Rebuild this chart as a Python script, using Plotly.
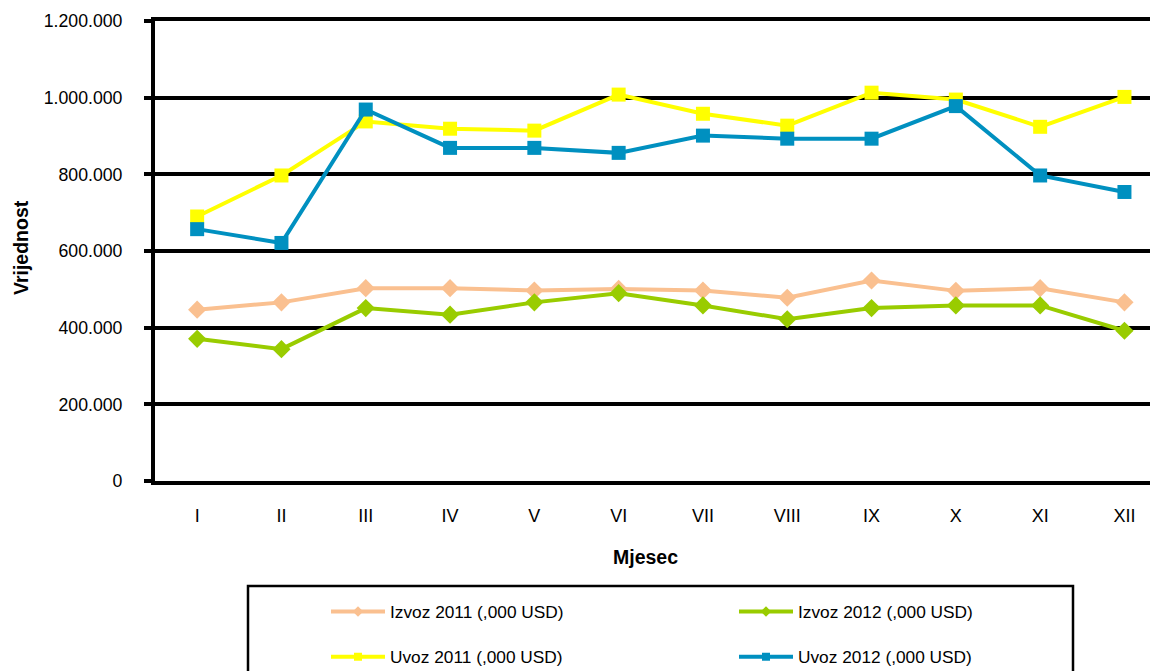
import plotly.graph_objects as go

months = ["I", "II", "III", "IV", "V", "VI", "VII", "VIII", "IX", "X", "XI", "XII"]
izvoz_2011 = [447000, 466000, 503000, 503000, 497000, 501000, 497000, 478000, 523000, 496000, 503000, 466000]
izvoz_2012 = [371000, 344000, 451000, 434000, 466000, 490000, 458000, 422000, 451000, 458000, 458000, 392000]
uvoz_2011 = [690000, 797000, 938000, 919000, 914000, 1008000, 958000, 927000, 1013000, 995000, 924000, 1002000]
uvoz_2012 = [657000, 621000, 969000, 869000, 869000, 856000, 901000, 893000, 893000, 978000, 797000, 754000]
y_ticks = [0, 200000, 400000, 600000, 800000, 1000000, 1200000]
y_tick_labels = ["0", "200.000", "400.000", "600.000", "800.000", "1.000.000", "1.200.000"]

series = [
    ("Izvoz 2011 (,000 USD)", izvoz_2011, "#FAC090", "diamond", 14, "legend"),
    ("Izvoz 2012 (,000 USD)", izvoz_2012, "#99CC00", "diamond", 14, "legend"),
    ("Uvoz 2011 (,000 USD)", uvoz_2011, "#FFFF00", "square", 14, "legend2"),
    ("Uvoz 2012 (,000 USD)", uvoz_2012, "#0090C0", "square", 14, "legend2"),
]

FONT = "Liberation Sans, Arial, sans-serif"
OFF = 8  # page body margin offset
W, H = 1158 - OFF, 671 - OFF
L, T = 155 - OFF, 21 - OFF
PLOT_BOTTOM = 481 - OFF
B = H - PLOT_BOTTOM
R = 0
PW, PH = W - L - R, H - T - B
cat_px = 84.3

def px_x(p):
    return (p - OFF - L) / PW

def px_y(p):
    return (PLOT_BOTTOM - (p - OFF)) / PH

fig = go.Figure()
for name, vals, color, sym, size, lg in series:
    fig.add_trace(go.Scatter(
        x=list(range(len(months))), y=vals, mode="lines+markers", name=name,
        line=dict(color=color, width=4),
        marker=dict(symbol=sym, size=size, color=color, line=dict(width=0)),
        showlegend=False, hoverinfo="skip",
    ))
# legend entries (smaller symbols, as in the reference legend)
for name, vals, color, sym, size, lg in series:
    fig.add_trace(go.Scatter(
        x=[None], y=[None], mode="lines+markers", name=name,
        line=dict(color=color, width=4),
        marker=dict(symbol=sym, size=8, color=color, line=dict(width=0)),
        showlegend=True, legend=lg,
    ))

legend_common = dict(
    orientation="h", entrywidth=339, entrywidthmode="pixels",
    x=px_x(326), xanchor="left", yanchor="middle",
    bgcolor="rgba(0,0,0,0)", borderwidth=0, itemwidth=54,
    font=dict(family=FONT, size=17.3, color="#000000"),
)

fig.update_layout(
    width=W, height=H,
    margin=dict(l=L, r=R, t=T, b=B, autoexpand=False),
    paper_bgcolor="white", plot_bgcolor="white",
    font=dict(family=FONT, size=17, color="#000000"),
    legend=dict(y=px_y(611.7), **legend_common),
    legend2=dict(y=px_y(657), **legend_common),
    xaxis=dict(
        range=[-0.5, -0.5 + PW / cat_px],
        tickmode="array", tickvals=list(range(len(months))), ticktext=months,
        showgrid=False, zeroline=False, ticks="",
        showline=True, mirror=True, linecolor="black", linewidth=4,
        ticklabelstandoff=15,
        tickfont=dict(family=FONT, size=18, color="#000000"),
    ),
    yaxis=dict(
        range=[0, 1200000],
        tickmode="array", tickvals=y_ticks, ticktext=y_tick_labels,
        showgrid=True, gridcolor="black", gridwidth=3.7,
        zeroline=False, showline=True, linecolor="black", linewidth=4,
        ticks="outside", ticklen=7, tickwidth=3.7, tickcolor="black",
        ticklabelstandoff=18,
        tickfont=dict(family=FONT, size=17.7, color="#000000"),
    ),
    shapes=[dict(
        type="rect", xref="paper", yref="paper",
        x0=px_x(248), x1=px_x(1073), y0=px_y(586), y1=px_y(720),
        line=dict(color="black", width=2.5), fillcolor="rgba(0,0,0,0)", layer="above",
    )],
    annotations=[
        dict(text="<b>Mjesec</b>", xref="paper", yref="paper", x=px_x(645), y=px_y(557),
             xanchor="center", yanchor="middle", showarrow=False,
             font=dict(family=FONT, size=19.5, color="#000000")),
        dict(text="<b>Vrijednost</b>", xref="paper", yref="paper", x=px_x(21), y=px_y(248),
             xanchor="center", yanchor="middle", showarrow=False, textangle=-90,
             font=dict(family=FONT, size=19.5, color="#000000")),
    ],
)

fig.write_html("out.html")
